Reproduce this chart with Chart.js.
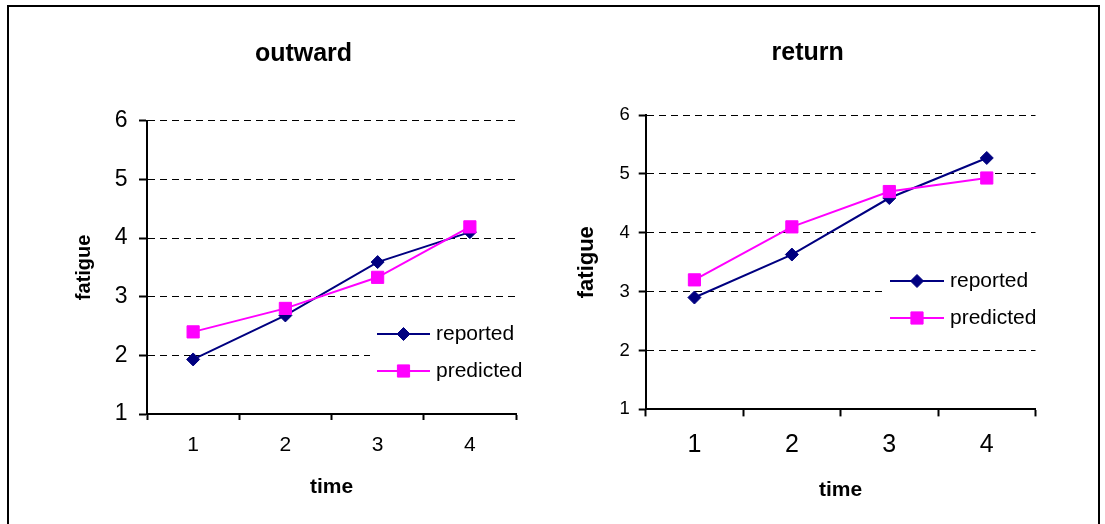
<!DOCTYPE html>
<html>
<head>
<meta charset="utf-8">
<title>fatigue: outward / return</title>
<script src="https://cdn.jsdelivr.net/npm/chart.js@4.4.1/dist/chart.umd.min.js"></script>
<style>
    html, body { margin: 0; padding: 0; background: #fff; overflow: hidden; }
    body { width: 1105px; height: 524px; position: relative; }
    #frame {
        position: absolute; left: 7px; top: 5px;
        width: 1089px; height: 560px;
        border: 2px solid #000;
    }
    canvas { position: absolute; top: 0; }
    #outwardChart { left: 0; }
    #returnChart { left: 552px; }
</style>
</head>
<body>
<div id="frame"></div>
<canvas id="outwardChart" width="552" height="524"></canvas>
<canvas id="returnChart" width="553" height="524"></canvas>

<script>
// values
const timeLabels = ['1', '2', '3', '4'];
const outwardReported = [1.93, 2.68, 3.59, 4.10];
const outwardPredicted = [2.40, 2.80, 3.33, 4.19];
const returnReported = [2.90, 3.63, 4.59, 5.27];
const returnPredicted = [3.20, 4.10, 4.70, 4.93];
const fatigueMin = 1;
const fatigueMax = 6;

const FONT = "'Liberation Sans', Arial, sans-serif";
const NAVY = '#000080';
const MAGENTA = '#FF00FF';

Chart.defaults.font.family = FONT;
Chart.defaults.color = '#000';

/**
 * Excel-style legend sitting inside the plot: line with marker, then label
 */
const insetLegend = {
    id: 'insetLegend',
    afterDraw(chart, args, opts) {
        const ctx = chart.ctx;
        ctx.save();
        ctx.fillStyle = '#fff';
        ctx.fillRect(opts.box[0], opts.box[1], opts.box[2], opts.box[3]);
        chart.data.datasets.forEach((ds, i) => {
            const y = opts.y + i * opts.rowGap;
            ctx.strokeStyle = ds.borderColor;
            ctx.lineWidth = ds.borderWidth;
            ctx.beginPath();
            ctx.moveTo(opts.x, y);
            ctx.lineTo(opts.x + opts.lineLength, y);
            ctx.stroke();

            ctx.fillStyle = ds.pointBackgroundColor;
            ctx.strokeStyle = ds.pointBorderColor;
            ctx.lineWidth = ds.pointBorderWidth;
            Chart.helpers.drawPoint(ctx, {
                pointStyle: ds.pointStyle,
                radius: ds.pointRadius,
                rotation: 0,
                borderWidth: ds.pointBorderWidth
            }, opts.x + opts.lineLength / 2, y);

            ctx.fillStyle = '#000';
            ctx.font = opts.fontSize + 'px ' + FONT;
            ctx.textBaseline = 'middle';
            ctx.textAlign = 'left';
            ctx.fillText(ds.label, opts.x + opts.lineLength + opts.textGap, y);
        });
        ctx.restore();
    }
};

/**
 * Build one fatigue-vs-time panel
 */
function createFatigueChart(id, title, reported, predicted, L) {
    const ctx = document.getElementById(id);
    if (!ctx) return null;

    return new Chart(ctx, {
        type: 'line',
        data: {
            labels: timeLabels,
            datasets: [{
                label: 'reported',
                data: reported,
                borderColor: NAVY,
                backgroundColor: NAVY,
                borderWidth: 2,
                pointStyle: 'rectRot',
                pointRadius: 6.5,
                pointBackgroundColor: NAVY,
                pointBorderColor: NAVY,
                pointBorderWidth: 1,
                tension: 0,
                order: 1
            }, {
                label: 'predicted',
                data: predicted,
                borderColor: MAGENTA,
                backgroundColor: MAGENTA,
                borderWidth: 2,
                pointStyle: 'rect',
                pointRadius: 8.6,
                pointBackgroundColor: MAGENTA,
                pointBorderColor: MAGENTA,
                pointBorderWidth: 1,
                tension: 0,
                order: 0
            }]
        },
        options: {
            responsive: false,
            animation: false,
            layout: {
                padding: { left: L.padLeft, right: L.padRight, top: 0, bottom: 0 }
            },
            plugins: {
                legend: { display: false },
                tooltip: { enabled: false },
                title: {
                    display: true,
                    text: title,
                    color: '#000',
                    font: { size: 25, weight: 'bold' },
                    padding: { top: L.titleTop, bottom: L.titleBottom }
                },
                insetLegend: L.legend
            },
            scales: {
                x: {
                    type: 'category',
                    offset: true,
                    afterFit: s => { s.height = L.xHeight; },
                    grid: {
                        offset: true,
                        drawOnChartArea: false,
                        drawTicks: true,
                        tickLength: L.xTickLength,
                        tickColor: '#000',
                        tickWidth: 2
                    },
                    border: { color: '#000', width: 2 },
                    ticks: {
                        color: '#000',
                        padding: L.xTickPad,
                        maxRotation: 0,
                        font: { size: L.xTickSize }
                    },
                    title: {
                        display: true,
                        text: 'time',
                        color: '#000',
                        font: { size: 21, weight: 'bold' },
                        padding: { top: 0, bottom: L.xTitleBottom }
                    }
                },
                y: {
                    min: fatigueMin,
                    max: fatigueMax,
                    afterFit: s => { s.width = L.yWidth; },
                    grid: {
                        color: '#000',
                        lineWidth: 1,
                        drawTicks: true,
                        tickLength: L.yTickLength,
                        tickColor: '#000',
                        tickWidth: 2,
                        tickBorderDash: []
                    },
                    border: { color: '#000', width: 2, dash: [7, 5] },
                    ticks: {
                        stepSize: 1,
                        color: '#000',
                        padding: L.yTickPad,
                        font: { size: L.yTickSize }
                    },
                    title: {
                        display: true,
                        text: 'fatigue',
                        color: '#000',
                        font: { size: L.yTitleSize, weight: 'bold' },
                        padding: { top: L.yTitlePad, bottom: 0 }
                    }
                }
            }
        },
        plugins: [insetLegend]
    });
}

const outwardLayout = {
    padLeft: 91, padRight: 36,
    titleTop: 38.7, titleBottom: 52,
    xHeight: 110, xTickLength: 6, xTickPad: 12.4, xTickSize: 21, xTitleBottom: 23.8,
    yWidth: 56, yTickLength: 8, yTickPad: 11.5, yTickSize: 23,
    yTitleSize: 20, yTitlePad: -19,
    legend: { x: 377, y: 334, rowGap: 37, lineLength: 53, textGap: 6, fontSize: 21,
              box: [370, 316, 160, 74] }
};

const returnLayout = {
    padLeft: 27.9, padRight: 69.5,
    titleTop: 38.5, titleBottom: 46.5,
    xHeight: 114.6, xTickLength: 7, xTickPad: 13.6, xTickSize: 25, xTitleBottom: 21.4,
    yWidth: 65.8, yTickLength: 7, yTickPad: 9, yTickSize: 18.5,
    yTitleSize: 22, yTitlePad: -6.1,
    legend: { x: 338, y: 281, rowGap: 37, lineLength: 54, textGap: 6, fontSize: 21,
              box: [331, 262, 170, 74] }
};

createFatigueChart('outwardChart', 'outward', outwardReported, outwardPredicted, outwardLayout);
createFatigueChart('returnChart', 'return', returnReported, returnPredicted, returnLayout);
</script>
</body>
</html>
